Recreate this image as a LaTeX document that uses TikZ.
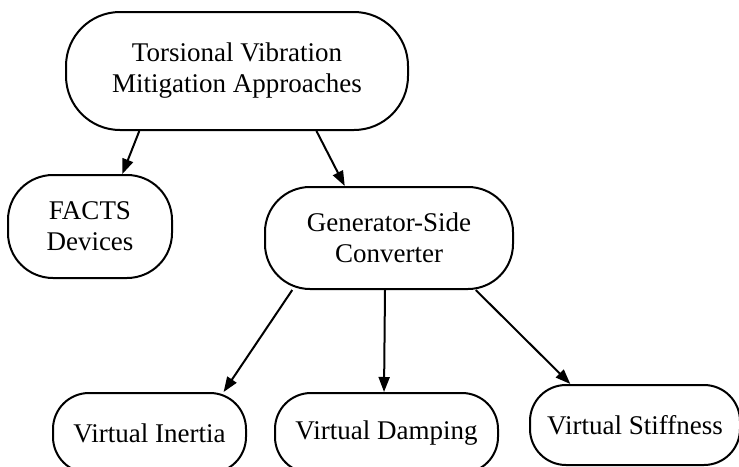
\documentclass[tikz,border=0pt]{standalone}
\usepackage{fontspec}
\setmainfont{Liberation Serif}
\usetikzlibrary{arrows.meta,calc}
\begin{document}
\begin{tikzpicture}[x=1pt,y=-1pt,
  box/.style={draw,line width=2pt,inner sep=0pt,align=center,
    font=\fontsize{27}{31}\selectfont},
  arr/.style={line width=2pt,-{Triangle[length=15pt,width=11pt]}}]
\useasboundingbox (0,0) rectangle (739,466);
\clip (0,0) rectangle (739,466);
\node[box,minimum width=342pt,minimum height=118pt,rounded corners=54pt] (top) at (237,71) {Torsional Vibration\\Mitigation Approaches};
\node[box,minimum width=164pt,minimum height=103pt,rounded corners=45pt] (facts) at (90,226.5) {FACTS\\Devices};
\node[box,minimum width=248pt,minimum height=102pt,rounded corners=45pt] (gen) at (389,238) {Generator-Side\\Converter};
\node[box,minimum width=193pt,minimum height=80pt,rounded corners=36pt] (inertia) at (149.5,433) {Virtual Inertia};
\node[box,minimum width=223pt,minimum height=80pt,rounded corners=36pt] (damping) at (386.5,433) {Virtual Damping};
\node[box,minimum width=210pt,minimum height=80pt,rounded corners=36pt] (stiff) at (635,425) {Virtual Stiffness};
\draw[arr] ($(top.south west)!0.216!(top.south east)$) -- ($(facts.north west)!0.695!(facts.north east)$);
\draw[arr] ($(top.south west)!0.731!(top.south east)$) -- ($(gen.north west)!0.323!(gen.north east)$);
\draw[arr] ($(gen.south west)!0.113!(gen.south east)$) -- ($(inertia.north west)!0.88!(inertia.north east)$);
\draw[arr] ($(gen.south west)!0.484!(gen.south east)$) -- ($(damping.north west)!0.489!(damping.north east)$);
\draw[arr] ($(gen.south west)!0.847!(gen.south east)$) -- ($(stiff.north west)!0.195!(stiff.north east)$);
\end{tikzpicture}
\end{document}
